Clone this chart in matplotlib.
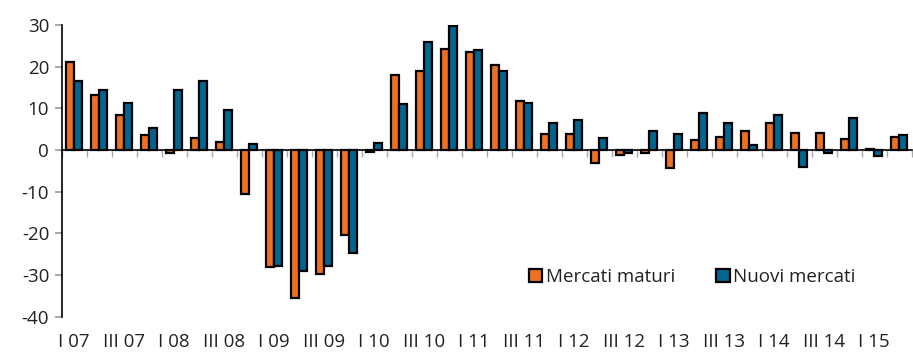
import numpy as np
import matplotlib
matplotlib.use('Agg')
import matplotlib.pyplot as plt

plt.rcParams['font.family'] = ['Open Sans', 'DejaVu Sans']
plt.rcParams['axes.unicode_minus'] = False

# trimestri da I 07 a II 15
anni = ['07', '08', '09', '10', '11', '12', '13', '14', '15']
romani = ['I', 'II', 'III', 'IV']
trimestri = [r + ' ' + a for a in anni for r in romani][:34]

mercati_maturi = [21.0, 13.2, 8.3, 3.5, -0.8, 2.9, 2.0, -10.5,
                  -28.0, -35.4, -29.7, -20.3, -0.5, 17.9, 19.0, 24.3,
                  23.4, 20.3, 11.8, 3.8, 3.9, -3.2, -1.3, -0.6,
                  -4.3, 2.3, 3.1, 4.6, 6.5, 4.1, 4.2, 2.6,
                  0.3, 3.1]
nuovi_mercati = [16.6, 14.3, 11.4, 5.3, 14.4, 16.6, 9.5, 1.4,
                 -27.8, -29.1, -27.8, -24.6, 1.6, 11.1, 25.8, 29.8,
                 24.0, 18.9, 11.4, 6.6, 7.2, 2.9, -0.8, 4.5,
                 3.8, 8.9, 6.6, 1.3, 8.4, -4.0, -0.8, 7.7,
                 -1.4, 3.6]

arancio = '#EE7023'
blu = '#00658F'

fig = plt.figure(figsize=(9.13, 3.52), dpi=100)
ax = fig.add_axes([0.0676, 0.1003, 0.9310, 0.8287])

x = np.arange(len(trimestri))
w = 0.32
ax.bar(x - w / 2, mercati_maturi, w, color=arancio, edgecolor='black', linewidth=1.6, label='Mercati maturi')
ax.bar(x + w / 2, nuovi_mercati, w, color=blu, edgecolor='black', linewidth=1.6, label='Nuovi mercati')

ax.set_xlim(-0.5, len(trimestri) - 0.5)
ax.set_ylim(-40, 30)
ax.set_yticks(range(-40, 31, 10))

for s in ['top', 'right']:
    ax.spines[s].set_visible(False)
ax.spines['bottom'].set_position(('data', 0))
ax.spines['bottom'].set_linewidth(1.2)
ax.spines['left'].set_linewidth(1.2)

# tacche tra i gruppi sull'asse dello zero
ax.set_xticks(np.arange(-0.5, len(trimestri), 1))
ax.set_xticklabels([])
ax.tick_params(axis='x', direction='out', length=5, color='#aaaaaa', width=1)
ax.tick_params(axis='y', direction='out', length=5, color='#999999', width=1.2,
               labelsize=13.5, labelcolor='#222222', pad=4)

# etichette dei trimestri in basso
sec = ax.secondary_xaxis('bottom')
sec.set_xticks(x[::2])
sec.set_xticklabels(trimestri[::2])
sec.tick_params(length=0, labelsize=13.5, labelcolor='#222222', pad=12)
sec.spines['bottom'].set_visible(False)

ax.legend(loc='center', bbox_to_anchor=(0.742, 0.136), ncol=2, frameon=False,
          fontsize=13.5, handlelength=0.7, handleheight=0.7, handletextpad=0.2,
          columnspacing=2.2, labelcolor='#222222')

fig.savefig('out.png', dpi=100)
